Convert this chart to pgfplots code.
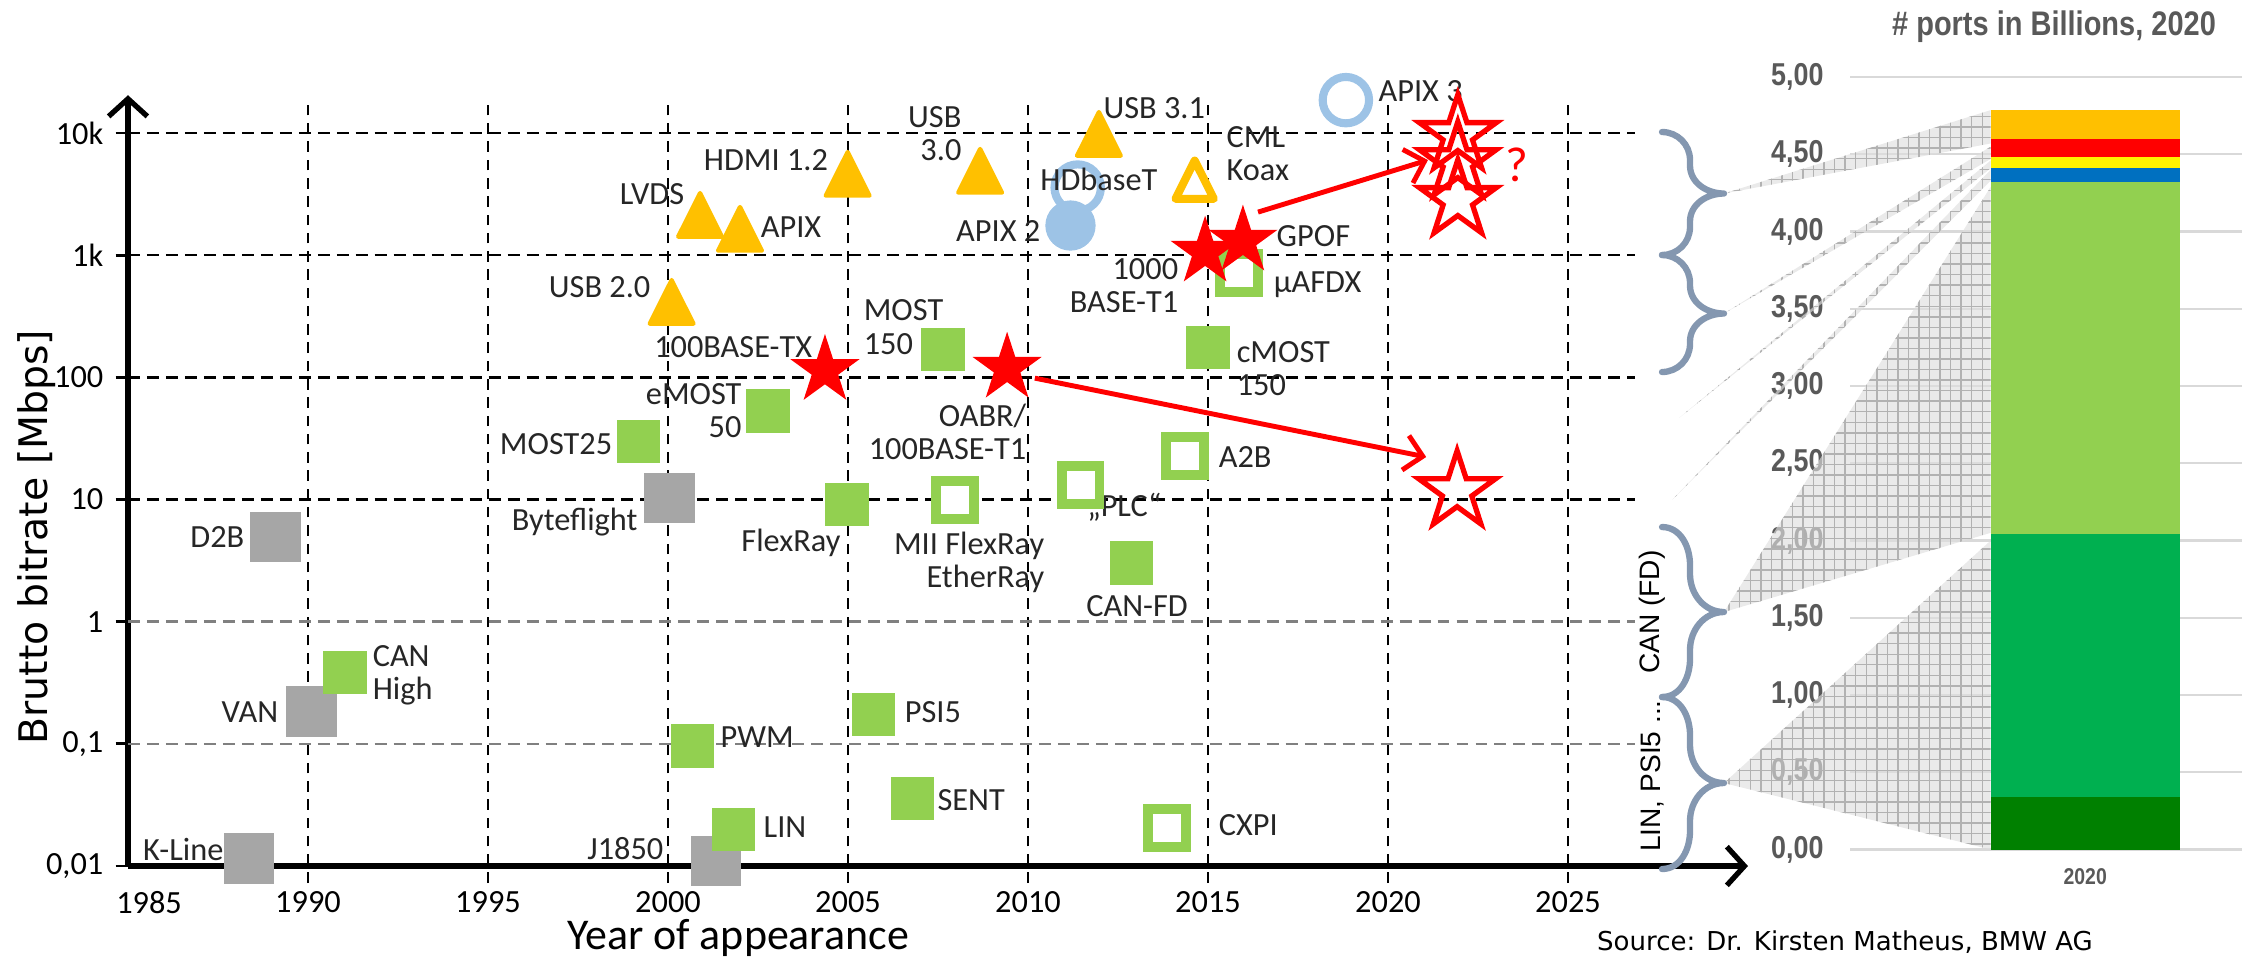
\documentclass[border=0pt]{standalone}
\usepackage{fontspec}
\setmainfont{Carlito}
\newfontfamily\dejavu{DejaVu Sans}
\newfontfamily\arialf{Liberation Sans}
\newfontfamily\narrowf[FakeStretch=0.85]{Liberation Sans}
\usepackage{pgfplots}
\pgfplotsset{compat=1.18}
\usetikzlibrary{arrows.meta,patterns}

\definecolor{sqgray}{HTML}{A6A6A6}
\definecolor{lgreen}{HTML}{92D050}
\definecolor{mgreen}{HTML}{00B050}
\definecolor{dgreen}{HTML}{008000}
\definecolor{orng}{HTML}{FFC000}
\definecolor{lblue}{HTML}{9DC3E6}
\definecolor{dblue}{HTML}{0070C0}
\definecolor{braceblue}{HTML}{8497B0}
\definecolor{tgray}{HTML}{595959}
\definecolor{ggrid}{HTML}{D9D9D9}

\tikzset{
  lbl/.style={font=\fontsize{9.2}{9.4}\selectfont, inner sep=0pt, text=black!85},
  vgrid/.style={black, line width=0.7pt, dash pattern=on 3pt off 2.2pt},
  hgrid/.style={black, line width=0.7pt, dash pattern=on 3.4pt off 2pt},
}

\pgfdeclareplotmark{fstar}{%
  \pgfpathmoveto{\pgfpointpolar{90}{\pgfplotmarksize}}%
  \pgfpathlineto{\pgfpointpolar{126}{0.382\pgfplotmarksize}}%
  \pgfpathlineto{\pgfpointpolar{162}{\pgfplotmarksize}}%
  \pgfpathlineto{\pgfpointpolar{198}{0.382\pgfplotmarksize}}%
  \pgfpathlineto{\pgfpointpolar{234}{\pgfplotmarksize}}%
  \pgfpathlineto{\pgfpointpolar{270}{0.382\pgfplotmarksize}}%
  \pgfpathlineto{\pgfpointpolar{306}{\pgfplotmarksize}}%
  \pgfpathlineto{\pgfpointpolar{342}{0.382\pgfplotmarksize}}%
  \pgfpathlineto{\pgfpointpolar{18}{\pgfplotmarksize}}%
  \pgfpathlineto{\pgfpointpolar{54}{0.382\pgfplotmarksize}}%
  \pgfpathclose
  \pgfusepathqfillstroke}
\pgfdeclareplotmark{ostar}{%
  \pgfpathmoveto{\pgfpointpolar{90}{\pgfplotmarksize}}%
  \pgfpathlineto{\pgfpointpolar{126}{0.382\pgfplotmarksize}}%
  \pgfpathlineto{\pgfpointpolar{162}{\pgfplotmarksize}}%
  \pgfpathlineto{\pgfpointpolar{198}{0.382\pgfplotmarksize}}%
  \pgfpathlineto{\pgfpointpolar{234}{\pgfplotmarksize}}%
  \pgfpathlineto{\pgfpointpolar{270}{0.382\pgfplotmarksize}}%
  \pgfpathlineto{\pgfpointpolar{306}{\pgfplotmarksize}}%
  \pgfpathlineto{\pgfpointpolar{342}{0.382\pgfplotmarksize}}%
  \pgfpathlineto{\pgfpointpolar{18}{\pgfplotmarksize}}%
  \pgfpathlineto{\pgfpointpolar{54}{0.382\pgfplotmarksize}}%
  \pgfpathclose
  \pgfusepathqstroke}
\pgfdeclareplotmark{rsq}{%
  \pgfsetcornersarced{\pgfqpoint{1pt}{1pt}}%
  \pgfpathmoveto{\pgfqpoint{-\pgfplotmarksize}{0pt}}%
  \pgfpathlineto{\pgfqpoint{-\pgfplotmarksize}{\pgfplotmarksize}}%
  \pgfpathlineto{\pgfqpoint{\pgfplotmarksize}{\pgfplotmarksize}}%
  \pgfpathlineto{\pgfqpoint{\pgfplotmarksize}{-\pgfplotmarksize}}%
  \pgfpathlineto{\pgfqpoint{-\pgfplotmarksize}{-\pgfplotmarksize}}%
  \pgfpathclose
  \pgfusepathqfillstroke}

\newcommand{\brc}[3]{%
  \draw[braceblue, line width=1.8pt, line cap=round, line join=round]
    (16.62,#1) to[out=0,in=90] (16.90,{#1-#3}) -- (16.90,{(#1+#2)/2+#3})
    to[out=-90,in=180] (17.24,{(#1+#2)/2})
    to[out=180,in=90] (16.90,{(#1+#2)/2-#3}) -- (16.90,{#2+#3})
    to[out=-90,in=0] (16.62,#2);}

\newcommand{\fan}[3]{%
  \fill[black!13, fill opacity=0.65] #1 -- #2 -- #3 -- cycle;
  \fill[pattern=grid, pattern color=black!30, fill opacity=0.6] #1 -- #2 -- #3 -- cycle;}

\begin{document}
\begin{tikzpicture}[x=1cm,y=1cm]
\path[use as bounding box] (0,0) rectangle (22.42,-9.60);

% ---------------- left chart ----------------
\begin{axis}[
  at={(1.28cm,-8.66cm)}, anchor=south west,
  scale only axis, width=16.20cm, height=7.708cm,
  xmin=1985, xmax=2030, ymode=log, log basis y=10,
  ymin=0.01, ymax=20400,
  axis x line=bottom, axis y line=left,
  axis line style={line width=1.5pt, -{Straight Barb[length=5pt,width=11pt]}},
  xtick={1985,1990,1995,2000,2005,2010,2015,2020,2025},
  xticklabels={\hspace*{12pt}1985,1990,1995,2000,2005,2010,2015,2020,2025},
  xtick style={draw=none},
  ytick={0.01,0.1,1,10,100,1000,10000},
  yticklabels={{0,01},{0,1},1,10,100,1k,10k},
  yminorticks=false,
  ytick style={black, line width=0.8pt},
  ytick align=outside, major tick length=3.5pt,
  xticklabel style={font=\fontsize{9.2}{11}\selectfont, yshift=-2pt},
  yticklabel style={font=\fontsize{9.2}{11}\selectfont},
  clip=false,
]
% grid
\pgfplotsinvokeforeach{1990,1995,2000,2005,2010,2015,2020,2025}{
  \draw[vgrid] (axis cs:#1,0.00726) -- (axis cs:#1,16900);
}
\draw[hgrid] (axis cs:1985,10000) -- (axis cs:2026.86,10000);
\draw[hgrid] (axis cs:1985,1000) -- (axis cs:2026.86,1000);
\draw[hgrid] (axis cs:1985,100) -- (axis cs:2026.86,100);
\draw[hgrid] (axis cs:1985,10) -- (axis cs:2026.86,10);
\draw[hgrid, black!50] (axis cs:1985,1) -- (axis cs:2026.86,1);
\draw[hgrid, black!50] (axis cs:1985,0.1) -- (axis cs:2026.86,0.1);

% gray squares
\addplot[only marks, mark=rsq, mark size=7pt, mark options={fill=sqgray, draw=sqgray, line width=0.3pt}]
  coordinates {(1988.37,0.0115) (1989.1,4.93) (1990.1,0.184) (2000.04,10.3) (2001.33,0.011)};
% green filled squares
\addplot[only marks, mark=rsq, mark size=6pt, mark options={fill=lgreen, draw=lgreen, line width=0.3pt}]
  coordinates {(1991.03,0.384) (1999.17,29.9) (2000.69,0.096) (2001.81,0.0199) (2002.78,53)
               (2004.97,9.1) (2005.71,0.174) (2006.79,0.0357) (2007.64,169) (2012.87,3.02) (2015.0,175)};
% green hollow squares
\addplot[only marks, mark=rsq, mark size=5.4pt, mark options={fill=white, draw=lgreen, line width=2.8pt}]
  coordinates {(2007.97,9.9) (2011.46,13.1) (2013.86,0.0205) (2014.35,22.7) (2015.86,714)};
% orange triangles
\addplot[only marks, mark=triangle*, mark size=7.2pt,
  mark options={fill=orng, draw=orng, line width=1.2pt, line join=round, yscale=1.15}]
  coordinates {(2000.1,362) (2000.89,1866) (2002.0,1435) (2004.99,4046) (2008.67,4285) (2011.97,8590)};
% hollow triangle
\addplot[only marks, mark=triangle*, mark size=6.3pt,
  mark options={fill=white, draw=orng, line width=2.3pt, line join=round, yscale=1.15}]
  coordinates {(2014.63,3681)};
% blue rings and circle
\addplot[only marks, mark=*, mark size=6.6pt, mark options={fill=white, draw=lblue, line width=2.3pt}]
  coordinates {(2011.38,3580) (2018.83,18600)};
\addplot[only marks, mark=*, mark size=7pt, mark options={fill=lblue, draw=lblue, line width=0.3pt}]
  coordinates {(2011.18,1750)};
% red filled stars
\addplot[only marks, mark=fstar, mark size=9.7pt, mark options={fill=red, draw=red, line width=0.4pt}]
  coordinates {(2004.36,114) (2009.42,119) (2014.92,1062) (2015.97,1306)};
% red hollow stars
\addplot[only marks, mark=ostar, mark size=11.5pt, mark options={draw=red, line width=1.5pt, miter limit=10}]
  coordinates {(2021.94,9620) (2021.94,5780) (2021.94,2826) (2021.92,11.7)};

% arrows
\draw[red, line width=1.4pt, -{Straight Barb[length=5pt,width=10pt]}]
  (axis cs:2016.39,2254) -- (axis cs:2021.11,6010);
\draw[red, line width=1.4pt, -{Straight Barb[length=5pt,width=10pt]}]
  (axis cs:2010.19,98.6) -- (axis cs:2021.06,22.3);
\node[text=red, font=\fontsize{14}{14}\selectfont] at (axis cs:2023.58,5470) {?};
\coordinate (pHD) at (axis cs:2011.97,4200);

% labels
\node[lbl,anchor=east] at (axis cs:1988.25,4.93) {D2B};
\node[lbl,anchor=east] at (axis cs:1989.19,0.1824) {VAN};
\node[lbl,anchor=east] at (axis cs:1987.67,0.01377) {K-Line};
\node[lbl,anchor=west,align=left] at (axis cs:1991.78,0.366) {CAN\\High};
\node[lbl,anchor=east] at (axis cs:1998.47,28.4) {MOST25};
\node[lbl,anchor=east] at (axis cs:1999.17,6.55) {Byteflight};
\node[lbl,anchor=east] at (axis cs:1999.89,0.01402) {J1850};
\node[lbl,anchor=west] at (axis cs:2002.64,0.02086) {LIN};
\node[lbl,anchor=west] at (axis cs:2001.44,0.1138) {PWM};
\node[lbl,anchor=east] at (axis cs:1999.53,548) {USB 2.0};
\node[lbl] at (axis cs:2001.81,177) {100BASE-TX};
\node[lbl,anchor=east] at (axis cs:2000.47,3162) {LVDS};
\node[lbl,anchor=west] at (axis cs:2002.56,1698) {APIX};
\node[lbl] at (axis cs:2002.72,6012) {HDMI 1.2};
\node[lbl,anchor=east,align=right] at (axis cs:2008.17,9910) {USB\\3.0};
\node[lbl,anchor=west] at (axis cs:2012.08,15990) {USB 3.1};
\node[lbl,anchor=east] at (axis cs:2010.36,1578) {APIX 2};
\node[lbl,anchor=west,align=left] at (axis cs:2015.5,6730) {CML\\Koax};
\node[lbl,anchor=west] at (axis cs:2019.72,22080) {APIX 3};
\node[lbl,anchor=west] at (axis cs:2016.89,1435) {GPOF};
\node[lbl,anchor=east,align=right] at (axis cs:2014.19,560) {1000\\BASE-T1};
\node[lbl,anchor=west] at (axis cs:2016.81,570) {µAFDX};
\node[lbl,anchor=west,align=left] at (axis cs:2005.42,258) {MOST\\150};
\node[lbl,anchor=west,align=left] at (axis cs:2015.78,117) {cMOST\\150};
\node[lbl,anchor=east,align=right] at (axis cs:2002.06,53) {eMOST\\50};
\node[lbl,anchor=east,align=right] at (axis cs:2009.97,35.6) {OABR/\\100BASE-T1};
\node[lbl,anchor=east] at (axis cs:2004.81,4.4) {FlexRay};
\node[lbl,anchor=east,align=right] at (axis cs:2010.47,3.08) {MII FlexRay\\EtherRay};
\node[lbl] at (axis cs:2012.68,8.69) {„PLC“};
\node[lbl,anchor=west] at (axis cs:2015.28,22.3) {A2B};
\node[lbl] at (axis cs:2013.03,1.343) {CAN-FD};
\node[lbl,anchor=west] at (axis cs:2006.56,0.1824) {PSI5};
\node[lbl,anchor=west] at (axis cs:2007.47,0.0347) {SENT};
\node[lbl,anchor=west] at (axis cs:2015.28,0.0217) {CXPI};
\end{axis}
\node[lbl] at (pHD) {HDbaseT};

% ---------------- right chart ----------------
\begin{axis}[
  at={(18.50cm,-8.495cm)}, anchor=south west,
  scale only axis, width=3.92cm, height=7.725cm,
  xmin=-1.2, xmax=0.8, ymin=0, ymax=5,
  ybar stacked, bar width=1.89cm,
  axis line style={draw=none}, tick style={draw=none},
  ymajorgrids, grid style={ggrid, line width=0.6pt},
  ytick={0,0.5,1,1.5,2,2.5,3,3.5,4,4.5,5},
  yticklabels={{0,00},{0,50},{1,00},{1,50},{2,00},{2,50},{3,00},{3,50},{4,00},{4,50},{5,00}},
  yticklabel style={font=\narrowf\bfseries\fontsize{9}{10}\selectfont, text=tgray, xshift=-4pt},
  xtick={0}, xticklabels={2020},
  xticklabel style={font=\narrowf\bfseries\fontsize{6.5}{8}\selectfont, text=tgray, yshift=-2pt},
  clip=false,
]
\addplot[fill=dgreen, draw=none] coordinates {(0,0.34)};
\addplot[fill=mgreen, draw=none] coordinates {(0,1.70)};
\addplot[fill=lgreen, draw=none] coordinates {(0,2.28)};
\addplot[fill=dblue, draw=none] coordinates {(0,0.09)};
\addplot[fill=yellow, draw=none] coordinates {(0,0.07)};
\addplot[fill=red, draw=none] coordinates {(0,0.12)};
\addplot[fill=orng, draw=none] coordinates {(0,0.186)};
\coordinate (ba) at (axis cs:-0.482,4.786);
\coordinate (bb) at (axis cs:-0.482,4.57);
\coordinate (bc) at (axis cs:-0.482,4.55);
\coordinate (bd) at (axis cs:-0.482,4.47);
\coordinate (be) at (axis cs:-0.482,4.46);
\coordinate (bf) at (axis cs:-0.482,4.41);
\coordinate (bg) at (axis cs:-0.482,4.40);
\coordinate (bh) at (axis cs:-0.482,4.33);
\coordinate (bi) at (axis cs:-0.482,4.29);
\coordinate (bj) at (axis cs:-0.482,2.05);
\coordinate (bk) at (axis cs:-0.482,2.00);
\coordinate (bl) at (axis cs:-0.482,0);
\end{axis}

% fans
\fan{(17.24,-1.935)}{(ba)}{(bb)}
\fan{(17.24,-3.135)}{(bc)}{(bd)}
\fan{(16.79,-4.18)}{(be)}{(bf)}
\fan{(16.72,-5.00)}{(bg)}{(bh)}
\fan{(17.24,-6.12)}{(bi)}{(bj)}
\fan{(17.24,-7.83)}{(bk)}{(bl)}

% braces
\brc{-1.32}{-2.55}{0.28}
\brc{-2.55}{-3.72}{0.28}
\brc{-5.27}{-6.97}{0.38}
\brc{-6.97}{-8.69}{0.38}
\node[rotate=90, font=\arialf\fontsize{8}{9}\selectfont] at (16.52,-6.12) {CAN (FD)};
\node[rotate=90, font=\arialf\fontsize{8}{9}\selectfont] at (16.52,-7.76) {LIN, PSI5 ...};

% titles and axis labels
\node[font=\narrowf\bfseries\fontsize{9.7}{11}\selectfont, text=tgray] at (20.54,-0.27) {\# ports in Billions, 2020};
\node[font=\dejavu\fontsize{7.4}{9}\selectfont] at (18.45,-9.42) {Source: Dr. Kirsten Matheus, BMW AG};
\node[rotate=90, font=\dejavu\fontsize{11.2}{13}\selectfont] at (0.37,-5.37) {Brutto bitrate [Mbps]};
\node[font=\fontsize{12.5}{14}\selectfont] at (7.38,-9.38) {Year of appearance};
\end{tikzpicture}
\end{document}
